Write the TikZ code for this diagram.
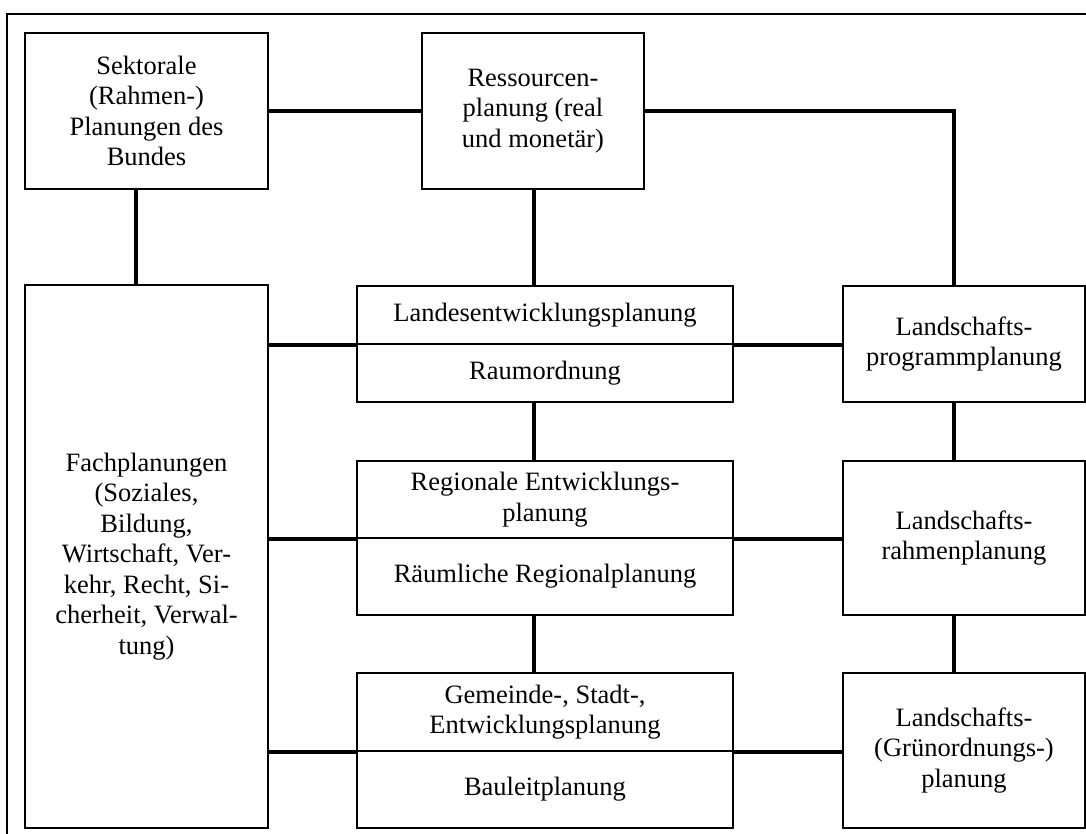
\documentclass[tikz,border=0pt]{standalone}
\usepackage{fontspec}
\setmainfont{Liberation Serif}
\begin{document}
\begin{tikzpicture}[x=1pt,y=1pt,
  bx/.style={draw, line width=2.2pt, inner sep=0pt, align=center,
    font=\fontsize{26.5}{30.5}\selectfont},
  conn/.style={line width=4pt},
  frame/.style={line width=2pt}]
\useasboundingbox (0,0) rectangle (1086,-834);
\draw[frame] (1086,-14) -- (7,-14) -- (7,-834);

\node[bx, minimum width=243, minimum height=156] (sek) at (146.5,-111)
  {Sektorale\\(Rahmen-)\\Planungen des\\Bundes};
\node[bx, minimum width=222, minimum height=156] (res) at (533,-111)
  {Ressourcen-\\planung (real\\und monet\"ar)};
\node[bx, minimum width=243, minimum height=543] (fach) at (146.5,-556.5)
  {Fachplanungen\\(Soziales,\\Bildung,\\Wirtschaft, Ver-\\kehr, Recht, Si-\\cherheit, Verwal-\\tung)};

\node[bx, minimum width=376, minimum height=58] (landA) at (545,-315) {Landesentwicklungsplanung};
\node[bx, minimum width=376, minimum height=58] (landB) at (545,-373) {Raumordnung};
\node[bx, minimum width=376, minimum height=77] (regA) at (545,-499.5) {Regionale Entwicklungs-\\planung};
\node[bx, minimum width=376, minimum height=77] (regB) at (545,-576.5) {R\"aumliche Regionalplanung};
\node[bx, minimum width=376, minimum height=78] (gemA) at (545,-712) {Gemeinde-, Stadt-,\\Entwicklungsplanung};
\node[bx, minimum width=376, minimum height=77] (gemB) at (545,-789.5) {Bauleitplanung};

\node[bx, minimum width=242, minimum height=116] (prog) at (964,-344) {Landschafts-\\programmplanung};
\node[bx, minimum width=242, minimum height=154] (rahm) at (964,-538) {Landschafts-\\rahmenplanung};
\node[bx, minimum width=242, minimum height=155] (gruen) at (964,-750.5) {Landschafts-\\(Gr\"unordnungs-)\\planung};

\coordinate (pc) at (954,-286);
\coordinate (mc) at (534,-286);
\coordinate (sc) at (136,-189);

\draw[conn] (sek.east) -- (res.west);
\draw[conn] (res.east) -| (pc);
\draw[conn] (mc |- res.south) -- (mc);
\draw[conn] (sc) -- (sc |- fach.north);

\draw[conn] (fach.east |- landA.south west) -- (landA.south west);
\draw[conn] (landA.south east) -- (prog.west |- landA.south east);
\draw[conn] (fach.east |- regA.south west) -- (regA.south west);
\draw[conn] (regA.south east) -- (rahm.west |- regA.south east);
\draw[conn] (fach.east |- gemA.south west) -- (gemA.south west);
\draw[conn] (gemA.south east) -- (gruen.west |- gemA.south east);

\draw[conn] (mc |- landB.south) -- (mc |- regA.north);
\draw[conn] (mc |- regB.south) -- (mc |- gemA.north);
\draw[conn] (pc |- prog.south) -- (pc |- rahm.north);
\draw[conn] (pc |- rahm.south) -- (pc |- gruen.north);
\end{tikzpicture}
\end{document}
